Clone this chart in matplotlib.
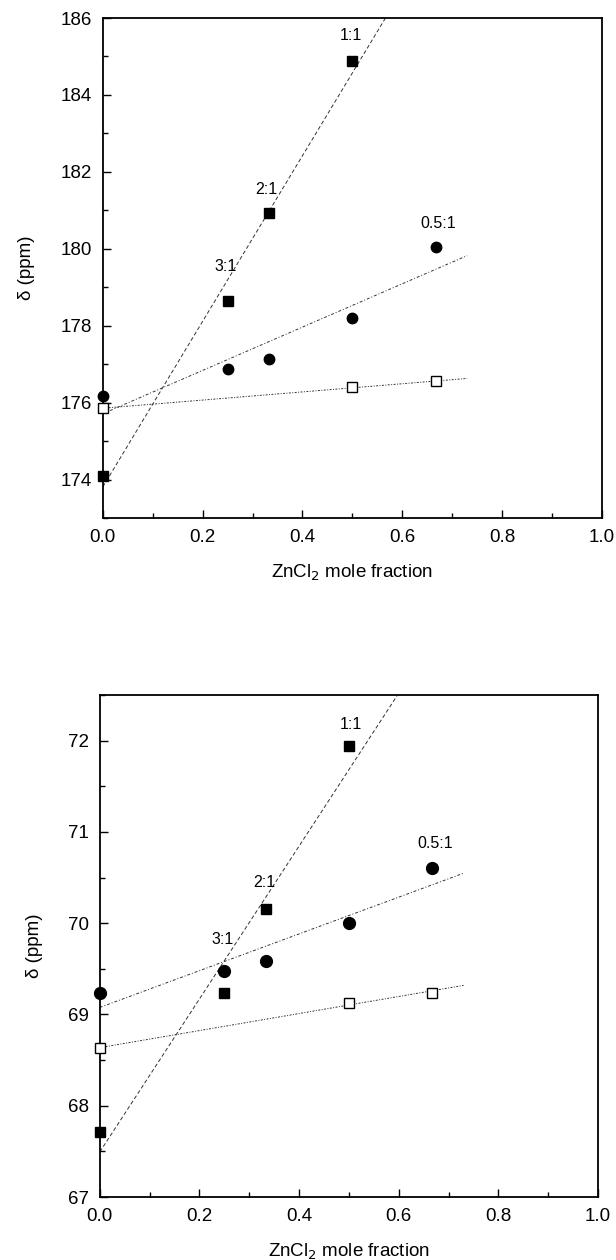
import numpy as np
import matplotlib
matplotlib.use("Agg")
import matplotlib.pyplot as plt
from matplotlib.ticker import MultipleLocator

plt.rcParams['font.family'] = ['Liberation Sans', 'DejaVu Sans']

# top panel (delta, ppm)
top_sq_x = [0.0, 0.25, 0.333, 0.5]
top_sq_y = [174.1, 178.65, 180.92, 184.88]
top_ci_x = [0.0, 0.25, 0.333, 0.5, 0.667]
top_ci_y = [176.18, 176.87, 177.13, 178.19, 180.04]
top_op_x = [0.0, 0.5, 0.667]
top_op_y = [175.85, 176.4, 176.55]

# bottom panel
bot_sq_x = [0.0, 0.25, 0.333, 0.5]
bot_sq_y = [67.71, 69.24, 70.16, 71.94]
bot_ci_x = [0.0, 0.25, 0.333, 0.5, 0.667]
bot_ci_y = [69.24, 69.48, 69.59, 70.0, 70.6]
bot_op_x = [0.0, 0.5, 0.667]
bot_op_y = [68.63, 69.13, 69.24]

ratio_labels = ['3:1', '2:1', '1:1', '0.5:1']
top_label_pos = [(0.246, 179.55), (0.328, 181.55), (0.498, 185.55), (0.672, 180.65)]
bot_label_pos = [(0.246, 69.82), (0.33, 70.45), (0.504, 72.18), (0.674, 70.87)]

fig = plt.figure(figsize=(6.16, 12.6), dpi=100)
ax1 = fig.add_axes([0.167, 0.5889, 0.810, 0.3968])
ax2 = fig.add_axes([0.162, 0.0500, 0.809, 0.3984])


def fit_line(ax, x, y, ls):
    k, b = np.polyfit(x, y, 1)
    xx = np.array([0.0, 0.73])
    ax.plot(xx, k * xx + b, color='#333333', lw=0.7, linestyle=ls, zorder=1)


def panel(ax, sq, ci, op, labels_pos, ylim, ymaj, ymin, msq, mci):
    fit_line(ax, sq[0], sq[1], (0, (4, 2.5)))
    fit_line(ax, ci[0], ci[1], (0, (3, 2, 1, 2)))
    fit_line(ax, op[0], op[1], (0, (2, 1.5, 1, 1.5)))
    ax.plot(sq[0], sq[1], 's', color='black', ms=msq, zorder=3, clip_on=False)
    ax.plot(ci[0], ci[1], 'o', color='black', ms=mci, zorder=3, clip_on=False)
    ax.plot(op[0], op[1], 's', mfc='white', mec='black', mew=1.0, ms=msq,
            zorder=3, clip_on=False)
    for lab, (lx, ly) in zip(ratio_labels, labels_pos):
        ax.text(lx, ly, lab, ha='center', va='center', fontsize=11.5)
    ax.set_xlim(0, 1.0)
    ax.set_ylim(*ylim)
    ax.xaxis.set_major_locator(MultipleLocator(0.2))
    ax.xaxis.set_minor_locator(MultipleLocator(0.1))
    ax.yaxis.set_major_locator(MultipleLocator(ymaj))
    ax.yaxis.set_minor_locator(MultipleLocator(ymin))
    ax.xaxis.set_major_formatter(plt.FormatStrFormatter('%.1f'))
    ax.yaxis.set_major_formatter(plt.FormatStrFormatter('%d'))
    ax.tick_params(which='both', direction='in', labelsize=13.5, width=1.0)
    ax.tick_params(which='major', length=6, pad=8)
    ax.tick_params(which='minor', length=3.5)
    for s in ax.spines.values():
        s.set_linewidth(1.3)
    ax.set_xlabel('ZnCl$_2$ mole fraction', fontsize=13.5, labelpad=12)
    ax.set_ylabel('δ (ppm)', fontsize=13.5, labelpad=18)


panel(ax1, (top_sq_x, top_sq_y), (top_ci_x, top_ci_y), (top_op_x, top_op_y),
      top_label_pos, (173, 186), 2, 1, 7, 7.5)
panel(ax2, (bot_sq_x, bot_sq_y), (bot_ci_x, bot_ci_y), (bot_op_x, bot_op_y),
      bot_label_pos, (67, 72.5), 1, 0.5, 7, 8.5)

fig.savefig('out.png', dpi=100)
